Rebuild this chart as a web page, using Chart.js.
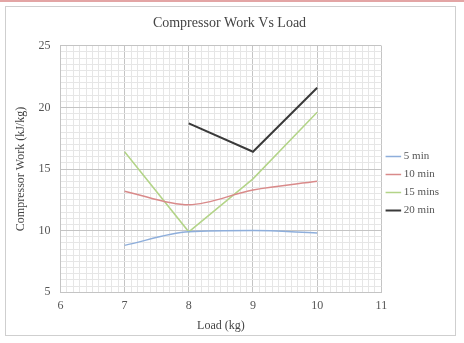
<!DOCTYPE html>
<html>
<head>
<meta charset="utf-8">
<script src="https://cdn.jsdelivr.net/npm/chart.js@4.4.1/dist/chart.umd.min.js"></script>
<style>
  html, body { margin: 0; padding: 0; background: #fff; }
  body { width: 464px; height: 343px; position: relative; overflow: hidden; }
  .topline { position: absolute; left: 0; top: 0; width: 464px; height: 2px; background: #e3a5a5; }
  .frame { position: absolute; left: 5px; top: 6px; width: 451px; height: 330px; border: 1px solid #cfcfcf; box-sizing: border-box; }
  #wrap { position: absolute; left: 6px; top: 7px; width: 449px; height: 328px; }
</style>
</head>
<body>
<div class="topline"></div>
<div class="frame"></div>
<div id="wrap"><canvas id="chart"></canvas></div>
<script>
const ctx = document.getElementById("chart");

// carga (kg)
const loads = [7, 8, 9, 10];
const serieNames = ["5 min", "10 min", "15 mins", "20 min"];
const work5 = [8.8, 9.9, 10.0, 9.8];
const work10 = [13.2, 12.1, 13.3, 14.0];
const work15 = [16.4, 9.9, 14.2, 19.6];
const work20 = [null, 18.7, 16.4, 21.6];
const colores = ["#8eaedb", "#d98a8a", "#b3d488", "#3a3a3a"];
const suavizado = [0.2, 0.2, 0, 0];

const serif = "'Liberation Serif', 'Times New Roman', serif";

function puntos(vals) {
  return loads.map((x, i) => ({ x: x, y: vals[i] }));
}

const series = [work5, work10, work15, work20];

const data = {
  datasets: series.map((vals, i) => ({
    label: serieNames[i],
    data: puntos(vals),
    borderColor: colores[i],
    backgroundColor: colores[i],
    borderWidth: i === 3 ? 2 : 1.5,
    pointRadius: 0,
    tension: suavizado[i],
    cubicInterpolationMode: i < 2 ? "monotone" : "default",
    spanGaps: false,
  })),
};

const esEntero = (v, paso) => Math.abs(v / paso - Math.round(v / paso)) < 1e-6;

new Chart(ctx, {
  type: "line",
  data: data,
  options: {
    responsive: true,
    maintainAspectRatio: false,
    animation: false,
    layout: { padding: { left: 4, right: 6, top: 2, bottom: 0 } },
    scales: {
      x: {
        type: "linear",
        min: 6,
        max: 11,
        ticks: {
          stepSize: 0.1,
          autoSkip: false,
          maxTicksLimit: 200,
          maxRotation: 0,
          padding: 6,
          color: "#555",
          font: { family: serif, size: 12 },
          callback: (v) => (esEntero(v, 1) ? Math.round(v) : ""),
        },
        grid: {
          drawTicks: false,
          color: (c) => (c.tick && esEntero(c.tick.value, 1) ? "#c4c4c4" : "#e6e6e6"),
          lineWidth: 1,
        },
        border: { color: "#c4c4c4" },
        title: {
          display: true,
          text: "Load (kg)",
          color: "#444",
          font: { family: serif, size: 12 },
          padding: { top: 0, bottom: 2 },
        },
      },
      y: {
        min: 5,
        max: 25,
        ticks: {
          stepSize: 0.5,
          autoSkip: false,
          maxTicksLimit: 200,
          padding: 10,
          color: "#555",
          font: { family: serif, size: 12 },
          callback: (v) => (esEntero(v, 5) ? Math.round(v) : ""),
        },
        grid: {
          drawTicks: false,
          color: (c) => (c.tick && esEntero(c.tick.value, 5) ? "#c4c4c4" : "#e6e6e6"),
          lineWidth: 1,
        },
        border: { color: "#c4c4c4" },
        title: {
          display: true,
          text: "Compressor Work (kJ/kg)",
          color: "#444",
          font: { family: serif, size: 12 },
          padding: { bottom: 0 },
        },
      },
    },
    plugins: {
      title: {
        display: true,
        text: "Compressor Work Vs Load",
        color: "#444",
        font: { family: serif, size: 14, weight: "normal" },
        padding: { top: 6, bottom: 14 },
      },
      legend: {
        position: "right",
        title: {
          display: true,
          text: " ",
          font: { family: serif, size: 11 },
          padding: { top: 0, bottom: 10 },
        },
        labels: {
          usePointStyle: true,
          pointStyle: "line",
          boxWidth: 10,
          padding: 7,
          color: "#555",
          font: { family: serif, size: 11 },
        },
      },
      tooltip: { enabled: false },
    },
  },
});
</script>
</body>
</html>
